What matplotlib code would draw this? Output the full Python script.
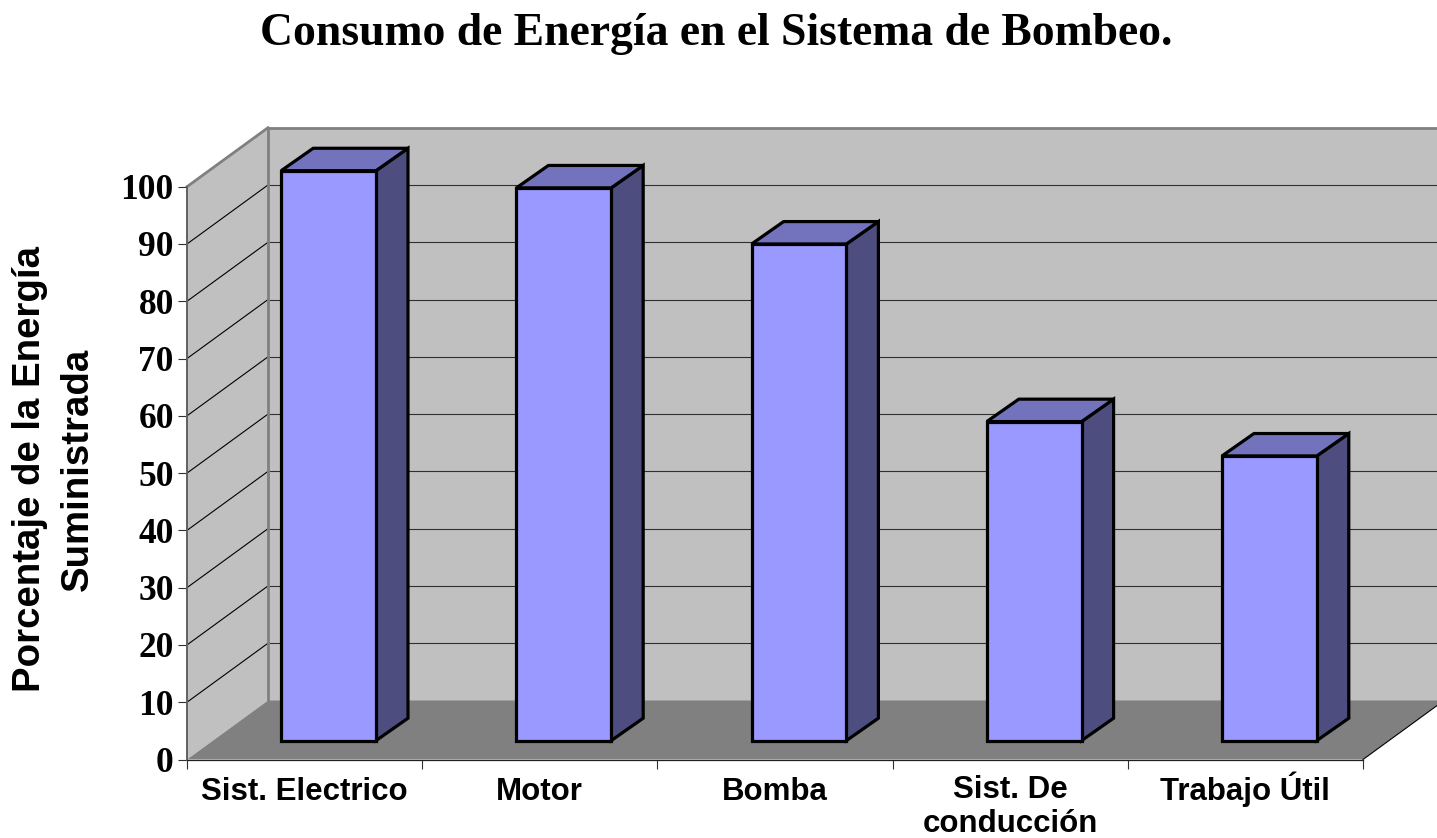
import matplotlib
matplotlib.use("Agg")
import matplotlib.pyplot as plt
from matplotlib.patches import Polygon

W, H = 1437, 838
# front plane of the chart box, in pixels
LEFT, RIGHT, BOTTOM, TOP = 187, 1363, 759.5, 186.7

title = "Consumo de Energía en el Sistema de Bombeo."
ylabel = "Porcentaje de la Energía\nSuministrada"
categories = ["Sist. Electrico", "Motor", "Bomba", "Sist. De\nconducción", "Trabajo Útil"]
values = [99.5, 96.5, 86.7, 55.7, 49.7]
yticks = [0, 10, 20, 30, 40, 50, 60, 70, 80, 90, 100]

# depth of the fake 3d box, in data units
DEPTH_X = 81 / 235.2
DEPTH_Y = 59 / 5.728
BAR_W = 0.403
BAR_SHIFT_X = 24 / 235.2
BAR_FRONT = 0.32
BAR_DX = 0.395
BAR_DY = 0.38

WALL = "#C0C0C0"
FLOOR = "#808080"
EDGE = "#808080"
FRONT = "#9999FF"
TOPC = "#7373BD"
SIDE = "#4D4D80"

fig = plt.figure(figsize=(W / 100, H / 100), dpi=100, facecolor="white")
ax = fig.add_axes([LEFT / W, 1 - BOTTOM / H, (RIGHT - LEFT) / W, (BOTTOM - TOP) / H])
n = len(categories)
ax.set_xlim(0, n)
ax.set_ylim(0, 100)
ax.patch.set_visible(False)


def poly(pts, fc, ec="none", lw=0, z=1):
    ax.add_patch(Polygon(pts, closed=True, facecolor=fc, edgecolor=ec, linewidth=lw,
                         joinstyle="miter", clip_on=False, zorder=z))


# walls and floor
ymax = yticks[-1]
poly([(0, 0), (DEPTH_X, DEPTH_Y), (DEPTH_X, ymax + DEPTH_Y), (0, ymax)], WALL)
poly([(DEPTH_X, DEPTH_Y), (n + DEPTH_X, DEPTH_Y), (n + DEPTH_X, ymax + DEPTH_Y), (DEPTH_X, ymax + DEPTH_Y)], WALL)
poly([(0, 0), (n, 0), (n + DEPTH_X, DEPTH_Y), (DEPTH_X, DEPTH_Y)], FLOOR)

# gridlines, side wall then back wall
for v in yticks[1:-1]:
    ax.plot([0, DEPTH_X], [v, v + DEPTH_Y], color="black", lw=0.8, clip_on=False, zorder=2)
    ax.plot([DEPTH_X, n + DEPTH_X], [v + DEPTH_Y, v + DEPTH_Y], color="#303030", lw=0.8, clip_on=False, zorder=2)
ax.plot([DEPTH_X, DEPTH_X, n + DEPTH_X], [DEPTH_Y, ymax + DEPTH_Y, ymax + DEPTH_Y], color=EDGE, lw=2, clip_on=False, zorder=2)
ax.plot([0, DEPTH_X], [ymax, ymax + DEPTH_Y], color=EDGE, lw=2, clip_on=False, zorder=2)
ax.plot([n, n + DEPTH_X], [0, DEPTH_Y], color="black", lw=0.8, clip_on=False, zorder=2)

# bars
for i, v in enumerate(values):
    x0 = i + 0.5 - BAR_W / 2 + BAR_SHIFT_X
    x1 = x0 + BAR_W
    y0 = BAR_FRONT * DEPTH_Y
    y1 = y0 + v
    dx = BAR_DX * DEPTH_X
    dy = BAR_DY * DEPTH_Y
    poly([(x1, y0), (x1 + dx, y0 + dy), (x1 + dx, y1 + dy), (x1, y1)], SIDE, "black", 2.3, 3)
    poly([(x0, y1), (x1, y1), (x1 + dx, y1 + dy), (x0 + dx, y1 + dy)], TOPC, "black", 2.3, 3)
    poly([(x0, y0), (x1, y0), (x1, y1), (x0, y1)], FRONT, "black", 2.3, 4)

ax.spines["top"].set_visible(False)
ax.spines["right"].set_visible(False)
ax.spines["left"].set_color("#606060")
ax.spines["left"].set_linewidth(1.4)
ax.spines["bottom"].set_color("#202020")
ax.spines["bottom"].set_linewidth(0.9)

ax.set_yticks(yticks)
ax.set_yticklabels([str(v) for v in yticks], family="Liberation Serif", fontweight="bold", fontsize=25.5)
ax.tick_params(axis="y", length=6.5, width=0.8, color="#303030", pad=3)
ax.set_xticks(range(n + 1))
ax.set_xticklabels([])
ax.tick_params(axis="x", which="major", length=6.5, width=0.8, color="#303030")
ax.set_xticks([i + 0.5 for i in range(n)], minor=True)
ax.set_xticklabels(categories, minor=True, family="Liberation Sans", fontweight="bold", fontsize=22.5,
                   linespacing=1.15, va="baseline")
ax.tick_params(axis="x", which="minor", length=0, pad=29)
# two line label hangs from its last baseline
ax.xaxis.get_minor_ticks()[3].set_pad(52)

ax.set_ylabel(ylabel, family="Liberation Sans", fontweight="bold", fontsize=27.6, linespacing=1.42, va="center")
ax.yaxis.set_label_coords((54 - LEFT) / (RIGHT - LEFT), (BOTTOM - 469) / (BOTTOM - TOP))

fig.text(716 / W, 1 - 34 / H, title, family="Liberation Serif", fontweight="bold", fontsize=32.9,
         ha="center", va="center")

fig.savefig("out.png", dpi=100)
